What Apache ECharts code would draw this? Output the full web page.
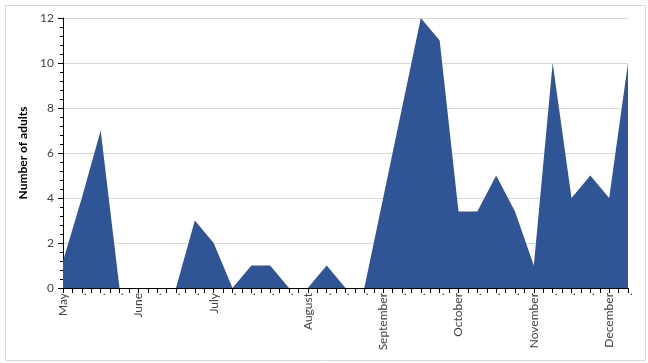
<!DOCTYPE html>
<html>
<head>
<meta charset="utf-8">
<script src="https://cdn.jsdelivr.net/npm/echarts@6/dist/echarts.min.js"></script>
<style>
html,body{margin:0;padding:0;background:#fff;}
#chart{width:648px;height:363px;}
</style>
</head>
<body>
<div id="chart"></div>
<script>
const categories = ["May", ".", ".", ".", "June", ".", ".", ".", "July", ".", ".", ".", ".", "August", ".", ".", ".", "September", ".", ".", ".", "October", ".", ".", ".", "November", ".", ".", ".", "December", "."];
const adults = [1.2, 4, 7, 0, 0, 0, 0, 3, 2, 0, 1, 1, 0, 0, 1, 0, 0, 4, 8, 12, 11, 3.4, 3.4, 5, 3.4, 1, 10, 4, 5, 4, 10];
const yTicks = [0, 2, 4, 6, 8, 10, 12];

const chart = echarts.init(document.getElementById('chart'), null, {renderer: 'canvas'});
const font = 'Lato, "Open Sans", sans-serif';
chart.setOption({
  animation: false,
  backgroundColor: '#ffffff',
  graphic: [{
    type: 'rect', left: 3, top: 3, shape: {width: 640, height: 355},
    style: {fill: 'none', stroke: '#d9d9d9', lineWidth: 1}, silent: true
  }],
  grid: {left: 63, right: 20, top: 18, bottom: 75, containLabel: false},
  xAxis: {
    type: 'value', min: 0, max: categories.length - 1, interval: 1,
    axisLine: {show: true, onZero: false, lineStyle: {color: '#000', width: 1}},
    axisTick: {show: true, inside: false, length: 5, lineStyle: {color: '#000'}},
    minorTick: {show: true, splitNumber: 2, length: 5, lineStyle: {color: '#000'}},
    splitLine: {show: false},
    axisLabel: {
      rotate: 90, margin: 5, fontSize: 12, fontFamily: font, color: '#404040',
      showMinLabel: true, showMaxLabel: true,
      formatter: v => categories[Math.round(v)] || ''
    }
  },
  yAxis: {
    type: 'value', min: yTicks[0], max: yTicks[yTicks.length - 1], interval: 2,
    name: 'Number of adults', nameLocation: 'middle', nameGap: 27, nameRotate: 90,
    nameTextStyle: {fontSize: 12, fontWeight: 'bold', fontFamily: font, color: '#000'},
    axisLine: {show: true, lineStyle: {color: '#000', width: 1}},
    axisTick: {show: true, length: 5, lineStyle: {color: '#000'}},
    minorTick: {show: true, splitNumber: 5, length: 3, lineStyle: {color: '#000'}},
    splitLine: {show: true, lineStyle: {color: '#d9d9d9', width: 1}},
    axisLabel: {fontSize: 12, fontFamily: font, color: '#404040', margin: 9}
  },
  series: [{
    type: 'line',
    data: adults.map((v, i) => [i, v]),
    symbol: 'none',
    lineStyle: {width: 0, color: '#2f5597'},
    areaStyle: {color: '#2f5597', opacity: 1},
    itemStyle: {color: '#2f5597'}
  }]
});
</script>
</body>
</html>
